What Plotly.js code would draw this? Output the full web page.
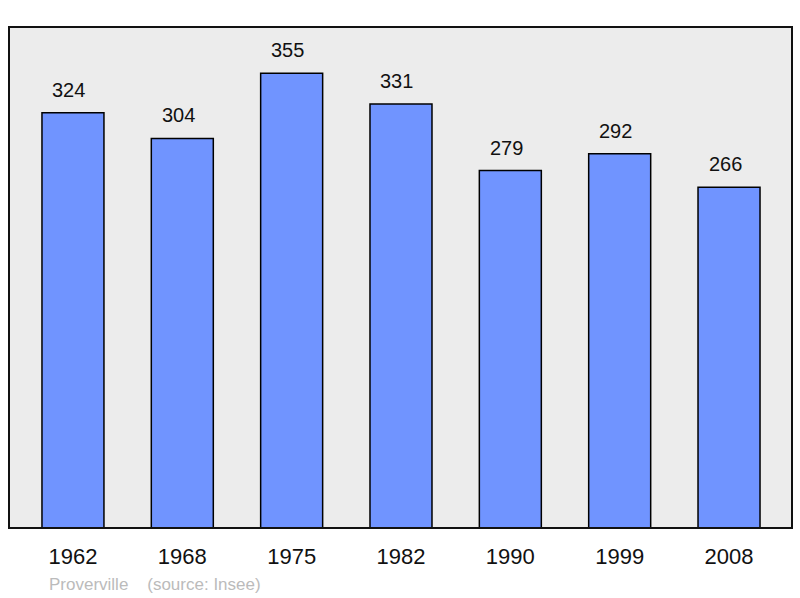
<!DOCTYPE html>
<html>
<head>
<meta charset="utf-8">
<script src="https://cdn.plot.ly/plotly-3.0.1.min.js"></script>
<style>html,body{margin:0;padding:0;background:#fff;}#chart{width:800px;height:598px;}</style>
</head>
<body>
<div id="chart"></div>
<script>
const years = ["1962", "1968", "1975", "1982", "1990", "1999", "2008"];
const population = [324, 304, 355, 331, 279, 292, 266];
const sourceText = "Proverville\u00a0\u00a0\u00a0\u00a0(source: Insee)";

const trace = {
  type: "bar",
  x: years,
  y: population,
  width: 0.567,
  marker: { color: "#7094ff", line: { color: "#000", width: 1.5 } },
  hoverinfo: "none"
};

const valueLabels = years.map((yr, i) => ({
  x: i, y: population[i], xref: "x", yref: "y",
  text: String(population[i]), showarrow: false,
  yanchor: "bottom", yshift: 10, xshift: -4,
  font: { family: "Liberation Sans, Arial, sans-serif", size: 20, color: "#111" }
}));

const layout = {
  width: 800, height: 598,
  margin: { l: 9, r: 8, t: 27, b: 70 },
  paper_bgcolor: "#ffffff",
  plot_bgcolor: "#ececec",
  showlegend: false,
  xaxis: {
    type: "category",
    range: [-0.585, 6.576],
    showgrid: false, zeroline: false, showline: false,
    ticks: "outside", ticklen: 9, tickcolor: "rgba(0,0,0,0)",
    tickfont: { family: "Liberation Sans, Arial, sans-serif", size: 22, color: "#111" },
    fixedrange: true
  },
  yaxis: {
    range: [0, 391],
    showgrid: false, zeroline: false, showline: false,
    showticklabels: false, ticks: "",
    fixedrange: true
  },
  shapes: [{
    type: "rect", xref: "paper", yref: "paper",
    x0: 0, x1: 1, y0: 0, y1: 1,
    line: { color: "#111", width: 2 }, fillcolor: "rgba(0,0,0,0)", layer: "above"
  }],
  annotations: valueLabels.concat([{
    xref: "paper", yref: "paper", x: 0.049, y: 0, yshift: -45,
    xanchor: "left", yanchor: "top", showarrow: false,
    text: sourceText,
    font: { family: "Liberation Sans, Arial, sans-serif", size: 17, color: "#bbbbbb" }
  }])
};

Plotly.newPlot("chart", [trace], layout, { displayModeBar: false, staticPlot: true });
</script>
</body>
</html>
